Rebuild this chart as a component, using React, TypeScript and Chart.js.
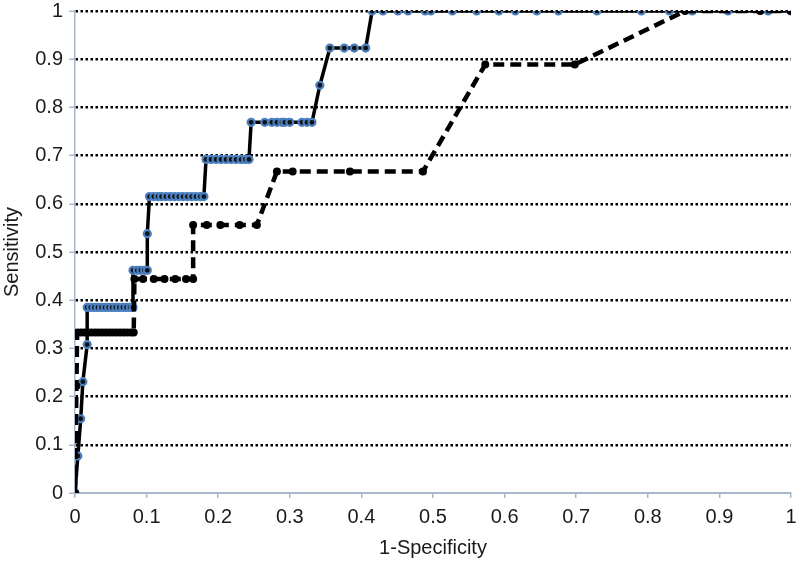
import React, { useEffect, useRef } from "react";
import { Chart, registerables } from "chart.js";

Chart.register(...registerables);

// Solid ROC curve (blue markers) – 1-Specificity / Sensitivity
const solidX = [
  0, 0.004, 0.008, 0.011, 0.017,
  0.017, 0.022, 0.027, 0.032, 0.037, 0.042, 0.047, 0.052, 0.057, 0.062, 0.067, 0.072, 0.077, 0.081,
  0.081, 0.087, 0.092, 0.097, 0.101,
  0.101,
  0.104, 0.11, 0.116, 0.121, 0.127, 0.133, 0.139, 0.145, 0.151, 0.157, 0.163, 0.169, 0.175, 0.18,
  0.183, 0.19, 0.197, 0.204, 0.211, 0.218, 0.225, 0.232, 0.238, 0.243,
  0.246, 0.265, 0.275, 0.282, 0.289, 0.293, 0.3, 0.317, 0.324, 0.331,
  0.342,
  0.356, 0.376, 0.39, 0.406,
  0.415, 0.43, 0.451, 0.465, 0.489, 0.497, 0.527, 0.561, 0.592, 0.615, 0.645, 0.675, 0.729, 0.791, 0.83, 0.862, 0.912, 0.968, 1,
];
const solidY = [
  0, 0.077, 0.154, 0.231, 0.308,
  0.385, 0.385, 0.385, 0.385, 0.385, 0.385, 0.385, 0.385, 0.385, 0.385, 0.385, 0.385, 0.385, 0.385,
  0.462, 0.462, 0.462, 0.462, 0.462,
  0.538,
  0.615, 0.615, 0.615, 0.615, 0.615, 0.615, 0.615, 0.615, 0.615, 0.615, 0.615, 0.615, 0.615, 0.615,
  0.692, 0.692, 0.692, 0.692, 0.692, 0.692, 0.692, 0.692, 0.692, 0.692,
  0.769, 0.769, 0.769, 0.769, 0.769, 0.769, 0.769, 0.769, 0.769, 0.769,
  0.846,
  0.923, 0.923, 0.923, 0.923,
  1, 1, 1, 1, 1, 1, 1, 1, 1, 1, 1, 1, 1, 1, 1, 1, 1, 1, 1,
];

// Dashed ROC curve (black markers)
const dashedX = [
  0, 0.001, 0.002,
  0.003, 0.008, 0.013, 0.018, 0.023, 0.028, 0.033, 0.038, 0.043, 0.048, 0.053, 0.058, 0.063, 0.068, 0.073, 0.078, 0.082,
  0.083, 0.095, 0.11, 0.125, 0.14, 0.155, 0.165,
  0.165, 0.184, 0.203, 0.23, 0.254,
  0.282, 0.304, 0.384, 0.486,
  0.573, 0.698,
  0.852, 0.957, 1,
];
const dashedY = [
  0, 0.111, 0.222,
  0.333, 0.333, 0.333, 0.333, 0.333, 0.333, 0.333, 0.333, 0.333, 0.333, 0.333, 0.333, 0.333, 0.333, 0.333, 0.333, 0.333,
  0.444, 0.444, 0.444, 0.444, 0.444, 0.444, 0.444,
  0.556, 0.556, 0.556, 0.556, 0.556,
  0.667, 0.667, 0.667, 0.667,
  0.889, 0.889,
  1, 1, 1,
];

const xTickLabels = ["0", "0.1", "0.2", "0.3", "0.4", "0.5", "0.6", "0.7", "0.8", "0.9", "1"];
const yTickLabels = ["0", "0.1", "0.2", "0.3", "0.4", "0.5", "0.6", "0.7", "0.8", "0.9", "1"];
const xTitle = "1-Specificity";
const yTitle = "Sensitivity";

const AXIS_GREY = "#a9b8c8";
const FONT = "'Liberation Sans', Arial, sans-serif";

export default function App() {
  const ref = useRef<HTMLCanvasElement | null>(null);

  useEffect(() => {
    document.body.style.margin = "0";
    const canvas = ref.current;
    if (!canvas) return;
    const chart = new Chart(canvas, {
      type: "line",
      data: {
        datasets: [
          {
            label: "dashed",
            data: dashedX.map((x, i) => ({ x, y: dashedY[i] })),
            borderColor: "#000",
            borderWidth: 4.5,
            borderDash: [11, 6],
            pointRadius: 4,
            pointBackgroundColor: "#000",
            pointBorderColor: "#000",
            pointBorderWidth: 0,
            tension: 0,
          },
          {
            label: "solid",
            data: solidX.map((x, i) => ({ x, y: solidY[i] })),
            borderColor: "#000",
            borderWidth: 3.5,
            pointRadius: 3.5,
            pointBackgroundColor: "#111",
            pointBorderColor: "#4a7fc0",
            pointBorderWidth: 2.2,
            tension: 0,
          },
        ],
      },
      options: {
        animation: false,
        responsive: false,
        devicePixelRatio: 1,
        layout: { padding: { top: 11, right: 9, left: 0, bottom: 0 } },
        plugins: { legend: { display: false }, tooltip: { enabled: false } },
        scales: {
          x: {
            type: "linear",
            min: 0,
            max: 1,
            afterFit: (s: any) => {
              s.height = 68;
              s.paddingLeft = 0;
              s.paddingRight = 0;
            },
            ticks: {
              stepSize: 0.1,
              color: "#1a1a1a",
              padding: 7,
              font: { family: FONT, size: 20 },
              maxRotation: 0,
              callback: (_v: any, i: number) => xTickLabels[i],
            },
            grid: {
              drawOnChartArea: false,
              drawTicks: true,
              tickLength: 5,
              color: AXIS_GREY,
              lineWidth: 1.5,
            },
            border: { color: AXIS_GREY, width: 2 },
            title: {
              display: true,
              text: xTitle,
              color: "#1a1a1a",
              font: { family: FONT, size: 20 },
              padding: { top: 0, bottom: 1 },
            },
          },
          y: {
            type: "linear",
            min: 0,
            max: 1,
            afterFit: (s: any) => {
              s.width = 75;
              s.paddingTop = 0;
              s.paddingBottom = 0;
            },
            ticks: {
              stepSize: 0.1,
              color: "#1a1a1a",
              padding: 6,
              font: { family: FONT, size: 20 },
              callback: (_v: any, i: number) => yTickLabels[i],
            },
            grid: {
              drawOnChartArea: true,
              drawTicks: true,
              tickLength: 6,
              lineWidth: 2.5,
              color: (c: any) => (c.tick && c.tick.value === 0 ? "rgba(0,0,0,0)" : "#000"),
              tickColor: AXIS_GREY,
              tickWidth: 1.5,
              tickBorderDash: [],
            },
            border: { color: AXIS_GREY, width: 1.5, dash: [2.5, 2.5] },
            title: {
              display: true,
              text: yTitle,
              color: "#1a1a1a",
              font: { family: FONT, size: 20 },
              padding: { top: 0, bottom: 0 },
            },
          },
        },
      },
    });
    return () => chart.destroy();
  }, []);

  return (
    <div style={{ width: 800, height: 561 }}>
      <canvas ref={ref} width={800} height={561} />
    </div>
  );
}
